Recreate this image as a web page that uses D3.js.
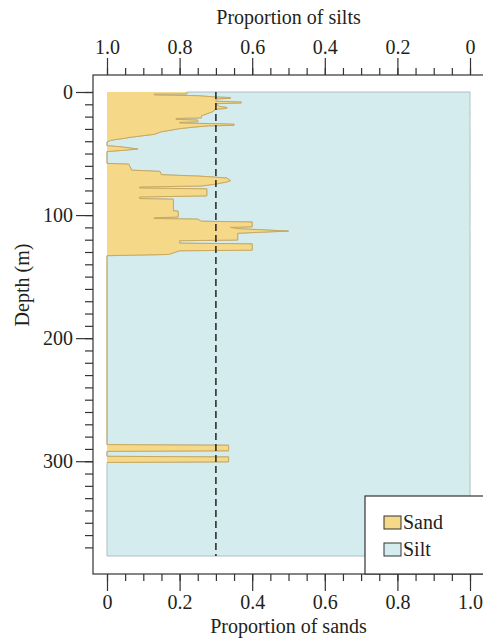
<!DOCTYPE html>
<html>
<head>
<meta charset="utf-8">
<script src="https://cdn.jsdelivr.net/npm/d3@7"></script>
<style>
  body { margin: 0; background: #fff; }
  text { font-family: "Liberation Serif", "Times New Roman", "DejaVu Serif", serif; fill: #231f20; }
</style>
</head>
<body>
<div id="chart"></div>
<script>
// sand profile: depth (m) and proportion of sand
var depthM = [
  0, 1.6, 1.7, 2.4, 3.0, 4.1, 4.5, 5.2, 5.6, 7.5, 8.2, 8.9, 9.5, 11.8, 12.5, 13.3, 14.0,
  16.1, 19.4, 21.0, 21.5, 22.2, 22.8, 24.2, 24.7, 25.2, 25.8, 26.2, 27.1, 27.5, 28.5,
  29.8, 32.3, 34.4, 36.6, 39.3, 40.7,
  43.6, 44.6, 46.3, 47.3, 48.4,
  58.0, 58.6, 63.5, 64.5, 67.2, 68.3, 69.2, 69.9, 72.0, 73.1, 74.8, 76.4, 77.2, 78.0,
  78.7, 84.4, 85.3, 86.6, 87.1, 96.5, 96.8, 101.6, 102.2, 102.8, 103.3,
  105.0, 105.6, 109.5, 110.0, 111.0, 112.0, 113.0, 114.0, 114.8, 120.3, 120.8, 122.8,
  123.4, 128.5, 129.0, 132.0, 133.0,
  286.5, 287.0, 291.5, 292.0, 296.0, 296.5, 300.5, 301.0, 377
];
var sandProp = [
  0.22, 0.22, 0.13, 0.13, 0.25, 0.30, 0.34, 0.34, 0.30, 0.30, 0.37, 0.37, 0.30, 0.31, 0.33, 0.33, 0.30,
  0.29, 0.26, 0.26, 0.19, 0.19, 0.25, 0.25, 0.20, 0.20, 0.31, 0.35, 0.35, 0.28, 0.24,
  0.20, 0.15, 0.13, 0.07, 0.01, 0,
  0, 0.04, 0.085, 0.05, 0,
  0, 0.06, 0.068, 0.146, 0.15, 0.25, 0.30, 0.33, 0.34, 0.33, 0.30, 0.26, 0.09, 0.09,
  0.275, 0.275, 0.09, 0.09, 0.183, 0.183, 0.196, 0.196, 0.13, 0.13, 0.25,
  0.26, 0.40, 0.40, 0.34, 0.36, 0.43, 0.50, 0.42, 0.36, 0.36, 0.20, 0.20,
  0.40, 0.40, 0.20, 0.17, 0,
  0, 0.335, 0.335, 0, 0, 0.335, 0.335, 0, 0
];

var sandTicks = [0, 0.2, 0.4, 0.6, 0.8, 1.0];
var siltTicks = [1.0, 0.8, 0.6, 0.4, 0.2, 0];
var depthTicks = [0, 100, 200, 300];
var depthMax = 377;
var sandLimit = 0.3;
var legendLabels = ["Sand", "Silt"];

var svgWidth = 483;
var svgHeight = 639;

var frame = { left: 93, top: 75, bottom: 574 };
var plot = { left: 107, right: 470, top: 92, bottom: 556 };

var sandColor = "#f5d888";
var sandEdge = "#c9a95e";
var siltColor = "#d4ecee";
var siltEdge = "#aebfc0";

var svg = d3.select("#chart")
  .append("svg")
  .attr("width", svgWidth)
  .attr("height", svgHeight);

var profile = depthM.map(function(d, i) {
  return { depth: d, sand: sandProp[i] };
});

var xSand = d3.scaleLinear().domain([0, 1]).range([plot.left, plot.right]);
var xSilt = d3.scaleLinear().domain([1, 0]).range([plot.left, plot.right]);
var yDepth = d3.scaleLinear().domain([0, depthMax]).range([plot.top, plot.bottom]);

// silt fills from the sand edge to 1
var siltArea = d3.area()
  .y(d => yDepth(d.depth))
  .x0(d => xSand(d.sand))
  .x1(xSand(1));

var sandArea = d3.area()
  .y(d => yDepth(d.depth))
  .x0(xSand(0))
  .x1(d => xSand(d.sand));

svg.append("path")
  .datum(profile)
  .attr("d", siltArea)
  .attr("fill", siltColor)
  .attr("stroke", siltEdge)
  .attr("stroke-width", 1);

svg.append("path")
  .datum(profile)
  .attr("d", sandArea)
  .attr("fill", sandColor);

// outline only where there is sand
var sandLine = d3.line()
  .defined(function(d, i) {
    var prev = profile[i - 1], next = profile[i + 1];
    return d.sand > 0 || (prev && prev.sand > 0) || (next && next.sand > 0);
  })
  .y(d => yDepth(d.depth))
  .x(d => xSand(d.sand));

svg.append("path")
  .datum(profile)
  .attr("d", sandLine)
  .attr("fill", "none")
  .attr("stroke", sandEdge)
  .attr("stroke-width", 1);

// threshold line
svg.append("line")
  .attr("x1", xSand(sandLimit))
  .attr("x2", xSand(sandLimit))
  .attr("y1", yDepth(0))
  .attr("y2", yDepth(depthMax))
  .attr("stroke", "#222")
  .attr("stroke-width", 1.5)
  .attr("stroke-dasharray", "7,4");

// frame
svg.append("rect")
  .attr("x", frame.left)
  .attr("y", frame.top)
  .attr("width", 420)
  .attr("height", frame.bottom - frame.top)
  .attr("fill", "none")
  .attr("stroke", "#333")
  .attr("stroke-width", 1.2);

var fmt = d => d === 0 ? "0" : d3.format(".1f")(d);

function styleAxis(g) {
  g.select(".domain").remove();
  g.attr("font-family", null);
  g.selectAll("line").attr("stroke", "#333").attr("stroke-width", 1.2);
  g.selectAll("text").attr("font-size", 20).attr("fill", "#231f20");
}

// bottom axis: sand
svg.append("g")
  .attr("transform", `translate(0, ${frame.bottom})`)
  .call(d3.axisBottom(xSand).tickValues(d3.range(0, 1.001, 0.05)).tickSize(7).tickFormat(""))
  .call(styleAxis);
svg.append("g")
  .attr("transform", `translate(0, ${frame.bottom})`)
  .call(d3.axisBottom(xSand).tickValues(sandTicks).tickSize(17).tickPadding(4).tickFormat(fmt))
  .call(styleAxis);

// top axis: silt
svg.append("g")
  .attr("transform", `translate(0, ${frame.top})`)
  .call(d3.axisTop(xSilt).tickValues(d3.range(0, 1.001, 0.05)).tickSize(7).tickFormat(""))
  .call(styleAxis);
svg.append("g")
  .attr("transform", `translate(0, ${frame.top})`)
  .call(d3.axisTop(xSilt).tickValues(siltTicks).tickSize(17).tickPadding(4).tickFormat(fmt))
  .call(styleAxis);

// left axis: depth
svg.append("g")
  .attr("transform", `translate(${frame.left}, 0)`)
  .call(d3.axisLeft(yDepth).tickValues(d3.range(0, depthMax, 10)).tickSize(8).tickFormat(""))
  .call(styleAxis);
svg.append("g")
  .attr("transform", `translate(${frame.left}, 0)`)
  .call(d3.axisLeft(yDepth).tickValues(depthTicks).tickSize(17).tickPadding(3))
  .call(styleAxis);

// axis titles
svg.append("text")
  .attr("x", (plot.left + plot.right) / 2)
  .attr("y", 24)
  .attr("text-anchor", "middle")
  .attr("font-size", 20)
  .text("Proportion of silts");

svg.append("text")
  .attr("x", (plot.left + plot.right) / 2)
  .attr("y", 633)
  .attr("text-anchor", "middle")
  .attr("font-size", 20)
  .text("Proportion of sands");

svg.append("text")
  .attr("transform", "translate(22, 285) rotate(-90)")
  .attr("text-anchor", "middle")
  .attr("dy", "0.35em")
  .attr("font-size", 20)
  .text("Depth (m)");

// legend
var legend = svg.append("g");
legend.append("rect")
  .attr("x", 365)
  .attr("y", 496)
  .attr("width", 140)
  .attr("height", frame.bottom - 496)
  .attr("fill", "#fff")
  .attr("stroke", "#333")
  .attr("stroke-width", 1.2);

var legendFill = [sandColor, siltColor];
legendLabels.forEach(function(label, i) {
  legend.append("rect")
    .attr("x", 384)
    .attr("y", 516 + i * 27)
    .attr("width", 17)
    .attr("height", 13)
    .attr("fill", legendFill[i])
    .attr("stroke", "#333")
    .attr("stroke-width", 1);
  legend.append("text")
    .attr("x", 403)
    .attr("y", 529 + i * 27)
    .attr("font-size", 20)
    .text(label);
});
</script>
</body>
</html>
